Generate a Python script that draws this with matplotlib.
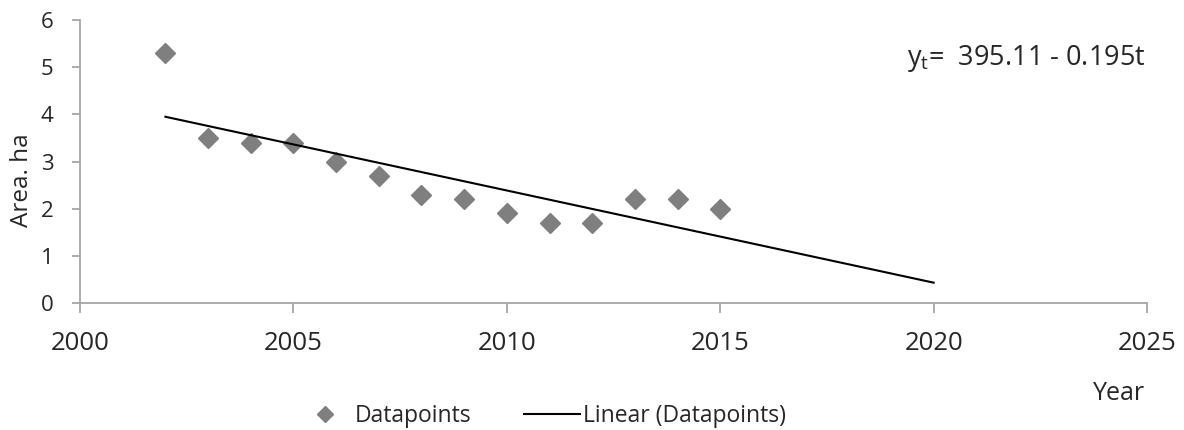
import numpy as np
import matplotlib.pyplot as plt
from matplotlib.lines import Line2D

years = [2002, 2003, 2004, 2005, 2006, 2007, 2008, 2009, 2010, 2011, 2012, 2013, 2014, 2015]
area = [5.3, 3.5, 3.4, 3.4, 3.0, 2.7, 2.3, 2.2, 1.9, 1.7, 1.7, 2.2, 2.2, 2.0]
trend_end = 2020
x_ticks = [2000, 2005, 2010, 2015, 2020, 2025]
y_ticks = [0, 1, 2, 3, 4, 5, 6]

plt.rcParams["font.family"] = ["Open Sans", "DejaVu Sans"]
axis_grey = "#a6a6a6"
text_col = "#262626"
marker_grey = "#7f7f7f"

fig = plt.figure(figsize=(11.84, 4.3), dpi=100)
ax = fig.add_axes([0.0676, 0.2953, 0.9012, 0.6582])

ax.plot(years, area, linestyle="none", marker="D", markersize=10,
        color=marker_grey, markeredgecolor=marker_grey)

# linear trend fitted to the data points, extended to 2020
slope, intercept = np.polyfit(years, area, 1)
tx = np.array([years[0], trend_end])
ax.plot(tx, intercept + slope * tx, color="black", linewidth=1.5)

ax.set_xlim(x_ticks[0], x_ticks[-1])
ax.set_ylim(y_ticks[0], y_ticks[-1])
ax.set_xticks(x_ticks)
ax.set_yticks(y_ticks)
for side in ["top", "right"]:
    ax.spines[side].set_visible(False)
for side in ["left", "bottom"]:
    ax.spines[side].set_color(axis_grey)
    ax.spines[side].set_linewidth(1.3)
ax.tick_params(axis="both", colors=axis_grey, labelcolor=text_col,
               width=1.3, direction="out")
ax.tick_params(axis="x", labelsize=18.5, length=7, pad=13)
ax.tick_params(axis="y", labelsize=16, length=6, pad=13)

fig.text(22 / 1184, 1 - 180 / 430, "Area. ha", rotation=90, fontsize=17.5,
         color=text_col, ha="center", va="center")
fig.text(1119 / 1184, 1 - 400 / 430, "Year", fontsize=18, color=text_col,
         ha="center", va="baseline")
fig.text(907 / 1184, 1 - 65 / 430, "$\\mathregular{y_t}$=  395.11 - 0.195t",
         fontsize=19.5, color=text_col, ha="left", va="baseline")

handles = [
    Line2D([], [], linestyle="none", marker="D", markersize=8.5, color=marker_grey),
    Line2D([], [], color="black", linewidth=1.5),
]
fig.legend(handles, ["Datapoints", "Linear (Datapoints)"], loc="center",
           bbox_to_anchor=(0.457, 0.032), ncol=2, frameon=False, fontsize=16.5,
           handlelength=2.45, columnspacing=2.3, handletextpad=0.1,
           labelcolor=text_col, borderpad=0)

fig.savefig("out.png", dpi=100)
